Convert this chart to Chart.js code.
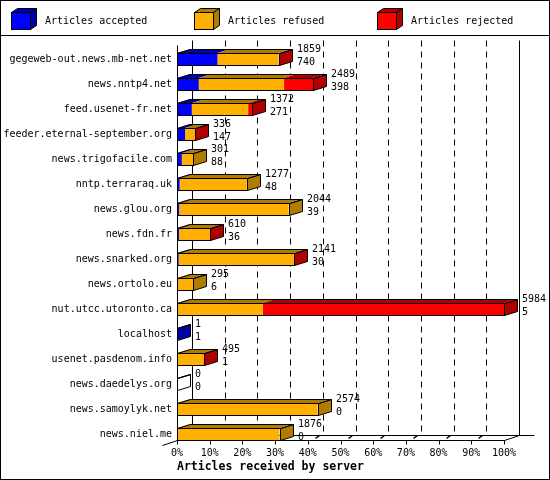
<!DOCTYPE html>
<html>
<head>
<meta charset="utf-8">
<script src="https://cdn.jsdelivr.net/npm/chart.js@4.4.1/dist/chart.umd.min.js"></script>
<style>
  html, body { margin: 0; padding: 0; background: #fff; }
  #wrap { width: 550px; height: 480px; }
</style>
</head>
<body>
<div id="wrap"><canvas id="feeds" width="550" height="480"></canvas></div>
<script>
// --- data ---
const servers = [
    "gegeweb-out.news.mb-net.net", "news.nntp4.net", "feed.usenet-fr.net",
    "feeder.eternal-september.org", "news.trigofacile.com", "nntp.terraraq.uk",
    "news.glou.org", "news.fdn.fr", "news.snarked.org", "news.ortolo.eu",
    "nut.utcc.utoronto.ca", "localhost", "usenet.pasdenom.info",
    "news.daedelys.org", "news.samoylyk.net", "news.niel.me"
];
const accepted = [740, 398, 271, 147, 88, 48, 39, 36, 30, 6, 5, 1, 1, 0, 0, 0];
const refused  = [1115, 1561, 1031, 186, 213, 1229, 2005, 571, 2106, 289, 1565, 0, 484, 0, 2574, 1876];
const rejected = [4, 530, 70, 3, 0, 0, 0, 3, 5, 0, 4414, 0, 10, 0, 0, 0];
const totals   = [1859, 2489, 1372, 336, 301, 1277, 2044, 610, 2141, 295, 5984, 1, 495, 0, 2574, 1876];
const tickPercents = [0, 10, 20, 30, 40, 50, 60, 70, 80, 90, 100];
const tickLabels = ["0%", "10%", "20%", "30%", "40%", "50%", "60%", "70%", "80%", "90%", "100%"];
const scaleMax = 5984; // 100% = biggest feed

const FONT = "'DejaVu Sans Mono', 'Liberation Mono', monospace";
const depth = { dx: 13, dy: -4 };   // bar depth
const wall = { dx: 15, dy: -5 };    // back wall offset

function poly(ctx, pts, fill) {
    ctx.beginPath();
    ctx.moveTo(pts[0][0], pts[0][1]);
    for (let i = 1; i < pts.length; i++) ctx.lineTo(pts[i][0], pts[i][1]);
    ctx.closePath();
    if (fill) { ctx.fillStyle = fill; ctx.fill(); }
    ctx.stroke();
}
function line(ctx, x1, y1, x2, y2) {
    ctx.beginPath();
    ctx.moveTo(x1, y1);
    ctx.lineTo(x2, y2);
    ctx.stroke();
}

const threeD = {
    id: "threeD",
    beforeDatasetsDraw(chart) {
        const { ctx, scales: { x } } = chart;
        const last = chart.getDatasetMeta(0).data[servers.length - 1];
        const floorY = Math.round(last.y + last.height / 2) + 0.5;
        const left = Math.round(x.getPixelForValue(0)) + 0.5;
        const right = Math.round(x.getPixelForValue(scaleMax)) + 0.5;
        const backY = floorY + wall.dy;
        const wallTop = 40.5;

        ctx.save();
        ctx.strokeStyle = "#000";
        ctx.lineWidth = 1;

        // dashed grid on the back wall
        ctx.setLineDash([6, 5]);
        tickPercents.slice(1, -1).forEach(p => {
            const gx = Math.round(x.getPixelForValue(p / 100 * scaleMax)) + wall.dx + 0.5;
            line(ctx, gx, wallTop, gx, backY);
        });
        ctx.setLineDash([]);

        line(ctx, left + wall.dx, wallTop, left + wall.dx, backY);
        line(ctx, right + wall.dx, wallTop, right + wall.dx, backY);
        line(ctx, left + wall.dx, backY, right + 2 * wall.dx, backY);
        line(ctx, left, floorY, right, floorY);
        line(ctx, right, floorY, right + wall.dx, backY);
        line(ctx, left - wall.dx, floorY - wall.dy, left, floorY);
        line(ctx, left, floorY, left + wall.dx, backY);
        line(ctx, left, wallTop - wall.dy, left, floorY);

        tickPercents.forEach(p => {
            const tx = Math.round(x.getPixelForValue(p / 100 * scaleMax)) + 0.5;
            line(ctx, tx, floorY, tx, floorY + 4);
            if (p > 0 && p < 100) {
                ctx.lineWidth = 1.5;
                line(ctx, tx + 7, floorY - 2, tx + 11, floorY - 5);
                ctx.lineWidth = 1;
            }
        });
        ctx.restore();
    },
    afterDatasetsDraw(chart) {
        const { ctx } = chart;
        const sets = chart.data.datasets;
        const metas = sets.map((d, k) => chart.getDatasetMeta(k));

        ctx.save();
        ctx.strokeStyle = "#000";
        ctx.lineWidth = 1;
        ctx.font = "10px " + FONT;
        ctx.textAlign = "left";
        ctx.textBaseline = "alphabetic";

        servers.forEach((name, i) => {
            const els = metas.map(m => m.data[i]);
            const ref = els[0];
            const T = Math.round(ref.y - ref.height / 2);
            const B = Math.round(ref.y + ref.height / 2);
            const x0 = Math.round(Math.min(ref.base, ref.x));
            let E = x0;
            let sideFill = "#fff";
            const segs = [];
            els.forEach((el, k) => {
                const b = Math.min(el.base, el.x), e = Math.max(el.base, el.x);
                if (e - b > 0.001) {
                    segs.push({ b, e, k });
                    E = e;
                    sideFill = sets[k].shadeColor;
                }
            });
            const Er = Math.round(E);

            // top faces, one per segment
            ctx.save();
            ctx.strokeStyle = "rgba(0,0,0,0)";
            segs.forEach(s => {
                poly(ctx, [[s.b, T], [s.e, T], [s.e + depth.dx, T + depth.dy], [s.b + depth.dx, T + depth.dy]],
                    sets[s.k].shadeColor);
            });
            ctx.restore();

            // side face
            poly(ctx, [[Er + 0.5, T + 0.5], [Er + 0.5, B + 0.5], [Er + 0.5 + depth.dx, B + 0.5 + depth.dy],
                [Er + 0.5 + depth.dx, T + 0.5 + depth.dy]], sideFill);
            // top outline
            poly(ctx, [[x0 + 0.5, T + 0.5], [Er + 0.5, T + 0.5], [Er + 0.5 + depth.dx, T + 0.5 + depth.dy],
                [x0 + 0.5 + depth.dx, T + 0.5 + depth.dy]], null);
            // front outline
            ctx.strokeRect(x0 + 0.5, T + 0.5, Er - x0, B - T);

            ctx.fillStyle = "#000";
            ctx.fillText(String(totals[i]), Er + 18, T - 1);
            ctx.fillText(String(accepted[i]), Er + 18, B);
        });
        ctx.restore();
    },
    afterDraw(chart) {
        const { ctx } = chart;
        ctx.save();
        ctx.strokeStyle = "#000";
        ctx.lineWidth = 1;
        ctx.font = "10px " + FONT;
        ctx.textBaseline = "middle";
        ctx.textAlign = "left";

        chart.data.datasets.forEach((ds, k) => {
            const bx = 11 + 183 * k, by = 12, w = 19, h = 17, dx = 6, dy = -4;
            poly(ctx, [[bx + 0.5, by + 0.5], [bx + w + 0.5, by + 0.5], [bx + w + dx + 0.5, by + dy + 0.5],
                [bx + dx + 0.5, by + dy + 0.5]], ds.shadeColor);
            poly(ctx, [[bx + w + 0.5, by + 0.5], [bx + w + 0.5, by + h + 0.5], [bx + w + dx + 0.5, by + h + dy + 0.5],
                [bx + w + dx + 0.5, by + dy + 0.5]], ds.shadeColor);
            ctx.fillStyle = ds.backgroundColor;
            ctx.fillRect(bx + 0.5, by + 0.5, w, h);
            ctx.strokeRect(bx + 0.5, by + 0.5, w, h);
            ctx.fillStyle = "#000";
            ctx.fillText(ds.label, bx + 34, by + h / 2 + 0.5);
        });

        line(ctx, 0, 35.5, 550, 35.5);
        ctx.strokeRect(0.5, 0.5, 549, 479);
        ctx.restore();
    }
};

new Chart(document.getElementById("feeds"), {
    type: "bar",
    data: {
        labels: servers,
        datasets: [
            { label: "Articles accepted", data: accepted, backgroundColor: "#0000ff", shadeColor: "#0000a8" },
            { label: "Articles refused", data: refused, backgroundColor: "#ffb000", shadeColor: "#b07c00" },
            { label: "Articles rejected", data: rejected, backgroundColor: "#ff0000", shadeColor: "#b00000" }
        ]
    },
    options: {
        indexAxis: "y",
        responsive: false,
        animation: false,
        devicePixelRatio: 1,
        layout: { padding: { top: 46.5, right: 46, bottom: 0, left: 0 } },
        datasets: { bar: { barPercentage: 0.48, categoryPercentage: 1, borderWidth: 0 } },
        plugins: {
            legend: { display: false },
            tooltip: { enabled: false }
        },
        scales: {
            x: {
                stacked: true,
                min: 0,
                max: scaleMax,
                afterBuildTicks: s => { s.ticks = tickPercents.map(p => ({ value: p / 100 * scaleMax })); },
                afterFit: s => { s.height = 33.5; },
                grid: { display: false, drawTicks: false },
                border: { display: false },
                ticks: {
                    autoSkip: false, maxRotation: 0, padding: 1, color: "#000",
                    font: { family: FONT, size: 10 },
                    callback: (v, i) => tickLabels[i]
                },
                title: {
                    display: true, text: "Articles received by server", align: "start", color: "#000",
                    font: { family: FONT, size: 11.5, weight: "bold" },
                    padding: { top: 0, bottom: 6 }
                }
            },
            y: {
                stacked: true,
                afterFit: s => { s.width = 177; },
                grid: { display: false, drawTicks: false },
                border: { display: false },
                ticks: { autoSkip: false, padding: 5, color: "#000", font: { family: FONT, size: 10 } }
            }
        }
    },
    plugins: [threeD]
});
</script>
</body>
</html>
